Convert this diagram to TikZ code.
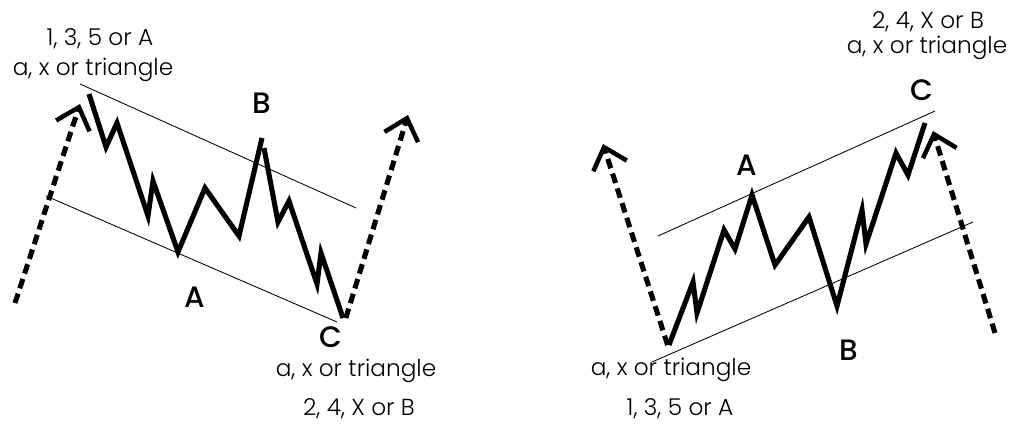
\documentclass[tikz,border=0pt]{standalone}
\usepackage{fontspec}
\setmainfont{Poppins}
\newfontfamily\notefont{Poppins}[UprightFont={* Light}]
\newfontfamily\wavefont{Poppins}[UprightFont={* Medium}]
\usetikzlibrary{arrows.meta}
\tikzset{
    x=0.025cm, y=-0.025cm,
    swing/.style={line width=3.6pt, line join=miter},
    trend/.style={line width=3.6pt, dash pattern=on 7pt off 4pt,
        -{Straight Barb[length=14pt, width=25pt, line width=3.2pt]}},
    channel/.style={line width=0.6pt},
    note/.style={font=\notefont\fontsize{16.5}{18}\selectfont, inner sep=0pt,
        text height=0.75em, text depth=0.2em},
    wave/.style={font=\wavefont\fontsize{21}{23}\selectfont, inner sep=0pt},
}

\begin{document}
\begin{tikzpicture}
    \useasboundingbox (0,0) rectangle (1016,425);

    % left: falling correction
    \coordinate (lStart) at (89,94);
    \coordinate (lA)     at (178,252);
    \coordinate (lB)     at (262,138);
    \coordinate (lC)     at (343,318);

    \draw[channel] (80,84) -- (356,208);
    \draw[channel] (46,196) -- (337,322);
    \draw[swing] (lStart) -- (106,147) -- (117,123) -- (148,216) -- (153,181)
        -- (lA) -- (205,188) -- (239,236) -- (lB);
    \draw[swing] (264,148) -- (278,222) -- (289,201) -- (317,284) -- (321,253) -- (lC);
    \coordinate (lInA) at (15,303);
    \coordinate (lInB) at (80,104);
    \coordinate (lOut) at (408,115);
    \draw[trend] (lInA) -- (lInB);
    \draw[trend] ([xshift=2]lC) -- (lOut);

    \node[note] (lTopNum) at (100,42) {1, 3, 5 or A};
    \node[note] (lTopPat) at (93,72)  {a, x or triangle};
    \node[wave] (lLabB)   at (262,103) {B};
    \node[wave] (lLabA)   at (195,297) {A};
    \node[wave] (lLabC)   at (331,337) {C};
    \node[note] (lBotPat) at (356,373) {a, x or triangle};
    \node[note] (lBotNum) at (359,412) {2, 4, X or B};

    % right: rising correction
    \coordinate (rStart) at (669,345);
    \coordinate (rA)     at (752,195);
    \coordinate (rB)     at (837,306);
    \coordinate (rC)     at (925,123);

    \draw[channel] (658,236) -- (935,111);
    \draw[channel] (652,362) -- (973,222);
    \draw[swing] (rStart) -- (693,282) -- (697,313) -- (724,230) -- (735,249) -- (rA)
        -- (775,265) -- (809,217) -- (rB) -- (862,210) -- (866,244) -- (896,153)
        -- (908,175) -- (rC);
    \coordinate (rInEnd) at (603,144);
    \coordinate (rOutA)  at (995,333);
    \coordinate (rOutB)  at (933,131);
    \draw[trend] ([xshift=-1]rStart) -- (rInEnd);
    \draw[trend] (rOutA) -- (rOutB);

    \node[note] (rTopNum) at (928,25)  {2, 4, X or B};
    \node[note] (rTopPat) at (927,50)  {a, x or triangle};
    \node[wave] (rLabC)   at (922,90)  {C};
    \node[wave] (rLabA)   at (747,165) {A};
    \node[wave] (rLabB)   at (849,350) {B};
    \node[note] (rBotPat) at (671,372) {a, x or triangle};
    \node[note] (rBotNum) at (680,412) {1, 3, 5 or A};
\end{tikzpicture}
\end{document}
